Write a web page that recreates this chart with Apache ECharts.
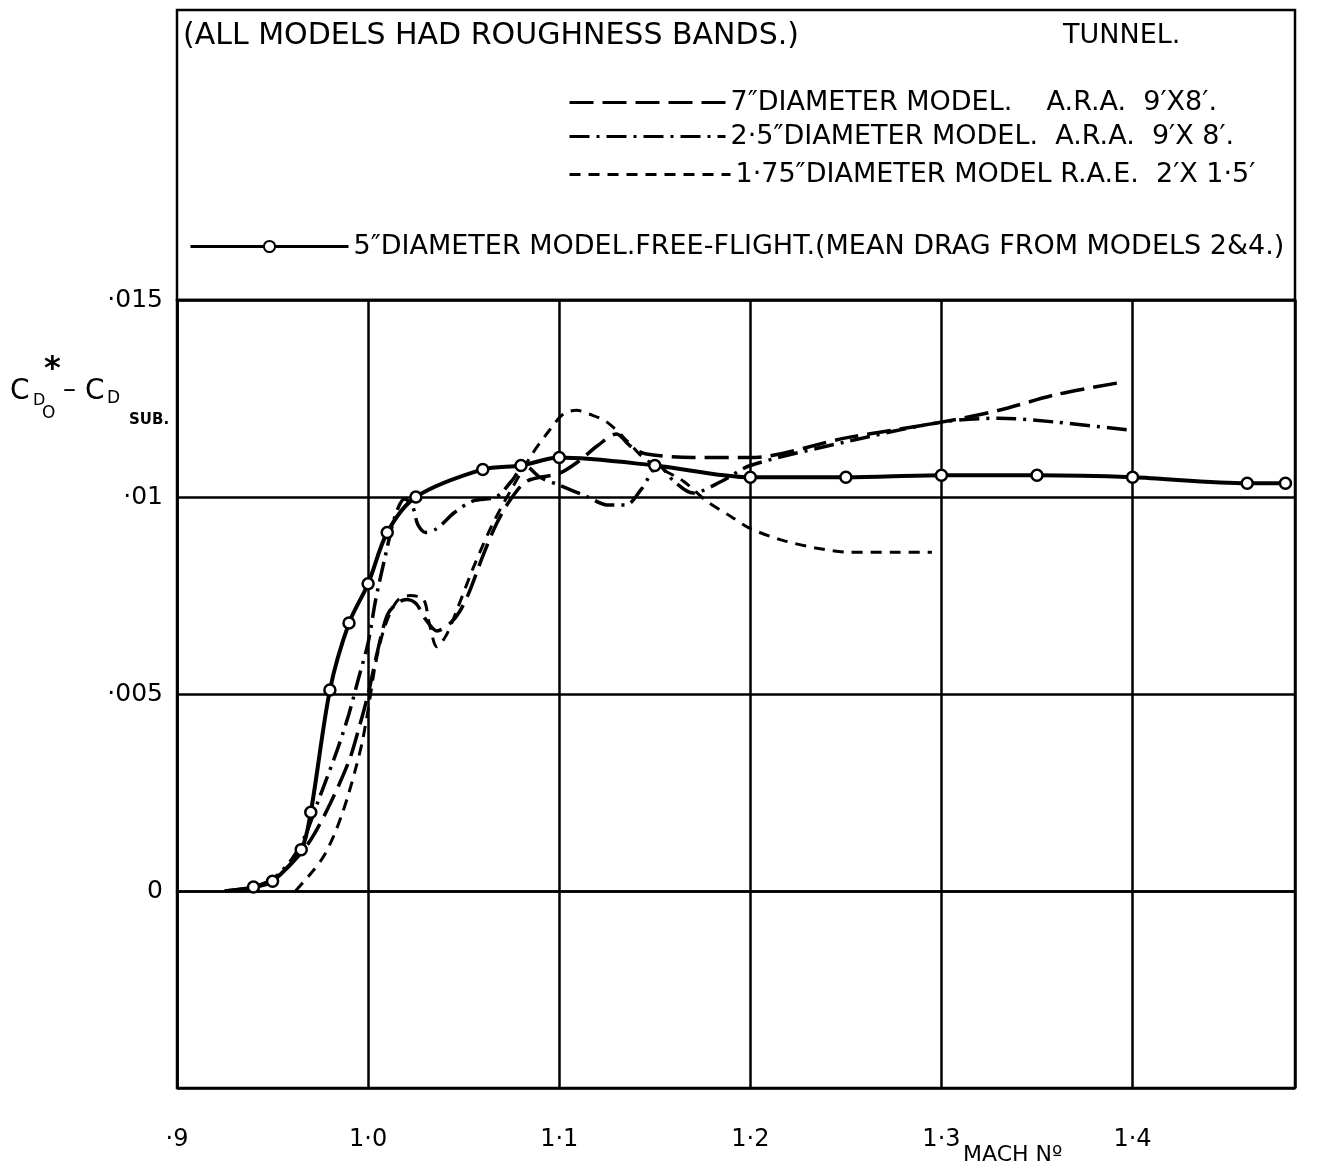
<!DOCTYPE html>
<html>
<head>
<meta charset="utf-8">
<title>CDo* - CD sub against Mach number</title>
<script src="https://cdn.jsdelivr.net/npm/echarts@6/dist/echarts.min.js"></script>
<style>
  html, body { margin: 0; padding: 0; background: #fff; }
  #chart { width: 1339px; height: 1168px; }
</style>
</head>
<body>
<div id="chart"></div>
<script>
// 5" model, free flight (solid line with circles)
const flightMach = [0.94, 0.95, 0.965, 0.97, 0.98, 0.99, 1.0, 1.01, 1.025, 1.06, 1.08, 1.10, 1.15, 1.20, 1.25, 1.30, 1.35, 1.40, 1.46, 1.48]
const flightCd = [0.0001, 0.00025, 0.00105, 0.0020, 0.0051, 0.0068, 0.0078, 0.0091, 0.0100, 0.0107, 0.0108, 0.0110, 0.0108, 0.0105, 0.0105, 0.01055, 0.01055, 0.0105, 0.01035, 0.01035]

// 7" model, A.R.A. 9'x8' (long dash)
const mach7 = [0.925, 0.94, 0.95, 0.96, 0.97, 0.98, 0.99, 0.995, 1.0, 1.005, 1.01, 1.015, 1.02, 1.025, 1.03, 1.036, 1.043, 1.048, 1.053, 1.06, 1.067, 1.074, 1.083, 1.1, 1.11, 1.12, 1.13, 1.137, 1.145, 1.17, 1.2, 1.25, 1.3, 1.33, 1.36, 1.393]
const cd7 = [0, 0.0001, 0.0003, 0.0007, 0.0013, 0.0022, 0.0033, 0.0041, 0.0050, 0.0061, 0.0070, 0.0073, 0.0074, 0.0073, 0.0069, 0.0066, 0.0068, 0.0071, 0.0076, 0.0085, 0.0093, 0.0099, 0.0104, 0.0106, 0.0109, 0.0113, 0.0116, 0.0113, 0.0111, 0.0110, 0.0110, 0.0115, 0.0119, 0.0122, 0.0126, 0.0129]

// 2.5" model, A.R.A. 9'x8' (dash-dot)
const mach25 = [0.925, 0.94, 0.95, 0.96, 0.967, 0.974, 0.984, 0.99, 0.995, 1.0, 1.004, 1.009, 1.014, 1.019, 1.023, 1.026, 1.03, 1.036, 1.045, 1.055, 1.067, 1.075, 1.082, 1.09, 1.1, 1.115, 1.125, 1.135, 1.143, 1.152, 1.16, 1.17, 1.185, 1.2, 1.25, 1.3, 1.33, 1.36, 1.398]
const cd25 = [0, 0.0001, 0.0003, 0.0008, 0.0014, 0.0023, 0.0036, 0.0045, 0.0054, 0.0063, 0.0074, 0.0085, 0.0095, 0.00995, 0.0098, 0.0093, 0.0091, 0.0092, 0.0096, 0.0099, 0.0100, 0.0104, 0.0108, 0.0105, 0.0103, 0.0100, 0.0098, 0.0098, 0.0102, 0.0108, 0.0104, 0.0101, 0.0104, 0.0108, 0.0114, 0.0119, 0.0120, 0.0119, 0.0117]

// 1.75" model, R.A.E. 2'x1.5' (short dash)
const mach175 = [0.962, 0.971, 0.977, 0.982, 0.986, 0.99, 0.994, 0.997, 1.0, 1.004, 1.008, 1.012, 1.016, 1.022, 1.029, 1.032, 1.036, 1.041, 1.047, 1.055, 1.065, 1.075, 1.086, 1.095, 1.102, 1.109, 1.116, 1.125, 1.136, 1.144, 1.154, 1.165, 1.177, 1.19, 1.2, 1.217, 1.235, 1.252, 1.275, 1.295]
const cd175 = [0, 0.0005, 0.0009, 0.0014, 0.0019, 0.0025, 0.0032, 0.0038, 0.0046, 0.0058, 0.0066, 0.0071, 0.0074, 0.0075, 0.0074, 0.0068, 0.0062, 0.0065, 0.0072, 0.0082, 0.0093, 0.0102, 0.0111, 0.0117, 0.0121, 0.0122, 0.0121, 0.0119, 0.0114, 0.0110, 0.0107, 0.0104, 0.0099, 0.0095, 0.0092, 0.0089, 0.0087, 0.0086, 0.0086, 0.0086]

// tick labels
const xTickValues = [0.9, 1.0, 1.1, 1.2, 1.3, 1.4]
const xTickText = ['·9', '1·0', '1·1', '1·2', '1·3', '1·4']
const yTickValues = [0, 0.005, 0.01, 0.015]
const yTickText = ['0', '·005', '·01', '·015']

const seriesNames = [
  '7″DIAMETER MODEL.    A.R.A.  9′X8′.',
  '2·5″DIAMETER MODEL.  A.R.A.  9′X 8′.',
  '1·75″DIAMETER MODEL R.A.E.  2′X 1·5′',
  '5″DIAMETER MODEL.FREE-FLIGHT.(MEAN DRAG FROM MODELS 2&4.)'
]

const FONT = 'DejaVu Sans'
const zip = (xs, ys) => xs.map((x, i) => [x, ys[i]])
const lookup = (vals, texts) => (v) => {
  const i = vals.findIndex(t => Math.abs(t - v) < 1e-9)
  return i < 0 ? '' : texts[i]
}

const chart = echarts.init(document.getElementById('chart'))

// one legend component per row, so each row sits where the drawing has it
const legendRow = (name, left, centerY, width, hideSymbol) => ({
  data: [name],
  left: left,
  top: centerY - 16,
  itemWidth: width,
  itemHeight: 14,
  selectedMode: false,
  lineStyle: { width: 3 },
  itemStyle: hideSymbol ? { opacity: 0 } : {},
  textStyle: { fontFamily: FONT, fontSize: 27, color: '#000' }
})

chart.setOption({
  backgroundColor: '#fff',
  animation: false,
  grid: {
    left: 177, top: 300, width: 1118, height: 788,
    show: true, borderColor: '#000', borderWidth: 2.5
  },
  legend: [
    legendRow(seriesNames[0], 563, 100, 156, true),
    legendRow(seriesNames[1], 563, 134, 156, true),
    legendRow(seriesNames[2], 563, 172, 161, true),
    legendRow(seriesNames[3], 184, 244, 158, false)
  ],
  xAxis: {
    type: 'value', min: 0.9, max: 1.485, interval: 0.1,
    axisLine: { show: true, lineStyle: { color: '#000', width: 2.5 } },
    axisTick: { show: false },
    axisLabel: {
      margin: 40, fontFamily: FONT, fontSize: 24, color: '#000',
      formatter: lookup(xTickValues, xTickText)
    },
    splitLine: { show: true, lineStyle: { color: '#000', width: 2.5 } }
  },
  yAxis: {
    type: 'value', min: -0.005, max: 0.015, interval: 0.005,
    axisLine: { show: true, lineStyle: { color: '#000', width: 2.5 } },
    axisTick: { show: false },
    axisLabel: {
      margin: 14, fontFamily: FONT, fontSize: 25, color: '#000',
      formatter: lookup(yTickValues, yTickText)
    },
    splitLine: { show: true, lineStyle: { color: '#000', width: 2.5 } }
  },
  series: [
    {
      name: seriesNames[0], type: 'line', smooth: 0.3, symbol: 'none',
      data: zip(mach7, cd7),
      itemStyle: { color: '#000' },
      lineStyle: { color: '#000', width: 3.5, type: [24, 9] }
    },
    {
      name: seriesNames[1], type: 'line', smooth: 0.3, symbol: 'none',
      data: zip(mach25, cd25),
      itemStyle: { color: '#000' },
      lineStyle: { color: '#000', width: 3.5, type: [20, 7, 3, 7] }
    },
    {
      name: seriesNames[2], type: 'line', smooth: 0.3, symbol: 'none',
      data: zip(mach175, cd175),
      itemStyle: { color: '#000' },
      lineStyle: { color: '#000', width: 3, type: [11, 8] }
    },
    {
      name: seriesNames[3], type: 'line', smooth: 0.3,
      symbol: 'circle', symbolSize: 11,
      data: zip(flightMach, flightCd),
      lineStyle: { color: '#000', width: 4 },
      itemStyle: { color: '#fff', borderColor: '#000', borderWidth: 2.5 }
    }
  ],
  graphic: [
    // legend panel above the plot
    {
      type: 'rect', shape: { x: 177, y: 10, width: 1118, height: 290 },
      style: { fill: 'none', stroke: '#000', lineWidth: 2.5 }, silent: true
    },
    {
      type: 'text', left: 183, top: 21,
      style: { text: '(ALL MODELS HAD ROUGHNESS BANDS.)', font: '30px "DejaVu Sans"', fill: '#000' }
    },
    {
      type: 'text', left: 1063, top: 22,
      style: { text: 'TUNNEL.', font: '27px "DejaVu Sans"', fill: '#000' }
    },
    // axis titles
    {
      type: 'text', left: 963, top: 1144,
      style: { text: 'MACH Nº', font: '22px "DejaVu Sans"', fill: '#000' }
    },
    { type: 'text', left: 10, top: 378, style: { text: 'C', font: '28px "DejaVu Sans"', fill: '#000' } },
    { type: 'text', left: 33, top: 393, style: { text: 'D', font: '16px "DejaVu Sans"', fill: '#000' } },
    { type: 'text', left: 42, top: 405, style: { text: 'O', font: '17px "DejaVu Sans"', fill: '#000' } },
    { type: 'text', left: 44, top: 354, style: { text: '*', font: 'bold 32px "DejaVu Sans"', fill: '#000' } },
    { type: 'text', left: 63, top: 377, style: { text: '–', font: '26px "DejaVu Sans"', fill: '#000' } },
    { type: 'text', left: 85, top: 378, style: { text: 'C', font: '28px "DejaVu Sans"', fill: '#000' } },
    { type: 'text', left: 107, top: 390, style: { text: 'D', font: '17px "DejaVu Sans"', fill: '#000' } },
    { type: 'text', left: 129, top: 413, style: { text: 'SUB.', font: 'bold 15px "DejaVu Sans"', fill: '#000' } }
  ]
})

window.addEventListener('resize', () => chart.resize())
</script>
</body>
</html>
